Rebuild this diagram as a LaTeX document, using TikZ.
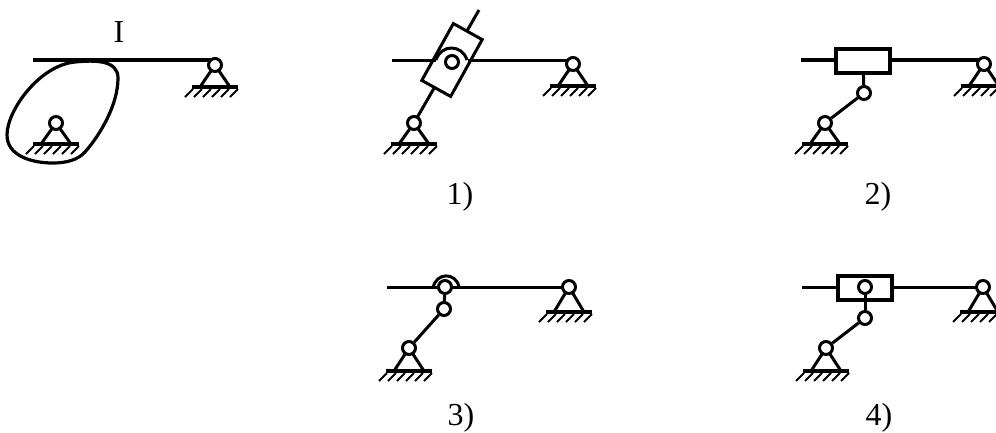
\documentclass[tikz,border=0pt]{standalone}
\usepackage{fontspec}
\setmainfont{Liberation Serif}
\usetikzlibrary{positioning, calc}

\tikzset{
	x=1pt, y=-1pt,
	bar/.style={line width=3pt},
	barheavy/.style={line width=4pt},
	pivot/.style={draw, circle, fill=white, line width=3pt, minimum size=13pt, inner sep=0pt},
	slider/.style={draw, fill=white, line width=4pt, minimum width=54pt, minimum height=24pt, inner sep=0pt},
	caption/.style={font=\fontsize{32}{36}\selectfont, inner sep=0pt},
	leg/.style={line width=3pt},
	base/.style={line width=4pt},
	hatch/.style={line width=2pt}
}

% support under a pivot: base line, two legs and six hatch strokes
\newcommand{\support}[2]{
	\draw [leg] (#1) -- ($(#1)+(-15,#2)$);
	\draw [leg] (#1) -- ($(#1)+(15,#2)$);
	\draw [base] ($(#1)+(-23,#2)$) -- ($(#1)+(23,#2)$);
	\foreach \i in {0,...,5} {
		\draw [hatch] ($(#1)+(-22+9*\i,#2+2)$) -- ++(-8,8);
	}
}

\begin{document}
\begin{tikzpicture}

\useasboundingbox (0,0) rectangle (996,432);

% I
\coordinate (startI) at (33,60);
\coordinate (rightI) at (215,65);
\coordinate (camI) at (56,123);
\draw [barheavy] (startI) -- (215,60);
\draw [line width=3.2pt] (75,62) .. controls (95,60) and (118,60) .. (118,78)
	.. controls (118,105) and (100,135) .. (85,152)
	.. controls (78,160) and (66,163) .. (53,163)
	.. controls (30,163) and (7,155) .. (7,135)
	.. controls (7,110) and (40,65) .. (75,62) -- cycle;
\support{rightI}{22}
\support{camI}{21}
\node [pivot] (pivotA) at (rightI) {};
\node [pivot] (pivotB) at (camI) {};
\node [caption] (labelI) at (119,32) {I};

% 1)
\coordinate (startOne) at (392,60);
\coordinate (rightOne) at (573,64);
\coordinate (leftOne) at (414,123);
\coordinate (tipOne) at (479,10);
\draw [bar] (leftOne) -- (tipOne);
\support{rightOne}{22}
\support{leftOne}{21}
\node [draw, fill=white, line width=3pt, minimum width=33pt, minimum height=65pt, inner sep=0pt, rotate=-29] (sliderOne) at (452,60) {};
\draw [bar] (startOne) -- (436,60);
\draw [bar] (468,60) -- (573,60);
\node [pivot] (pinOne) at (452,62) {};
\draw [bar] (436,60) .. controls (441,44) and (462,44) .. (467,60);
\node [pivot] (pivotC) at (rightOne) {};
\node [pivot] (pivotD) at (leftOne) {};
\node [caption] (labelOne) at (460,197) {1)};

% 2)
\coordinate (startTwo) at (801,60);
\coordinate (rightTwo) at (984,64);
\coordinate (leftTwo) at (825,123);
\draw [barheavy] (startTwo) -- (984,60);
\support{rightTwo}{22}
\support{leftTwo}{21}
\node [slider] (sliderTwo) at (863,60.5) {};
\node [pivot] (pinTwo) at (864,93) {};
\node [pivot] (pivotE) at (rightTwo) {};
\node [pivot] (pivotF) at (leftTwo) {};
\draw [bar] (sliderTwo) -- (pinTwo);
\draw [bar] (pinTwo) -- (pivotF);
\node [caption] (labelTwo) at (878,197) {2)};

% 3)
\coordinate (startThree) at (387,287);
\coordinate (rightThree) at (569,287);
\coordinate (leftThree) at (409,348);
\draw [bar] (startThree) -- (rightThree);
\support{rightThree}{25}
\support{leftThree}{23}
\draw [bar] (433,288) .. controls (436,272) and (456,272) .. (459,287);
\node [pivot] (pinThree) at (445,287) {};
\node [pivot] (lowThree) at (444,309) {};
\node [pivot] (pivotG) at (rightThree) {};
\node [pivot] (pivotH) at (leftThree) {};
\draw [bar] (pinThree) -- (lowThree);
\draw [bar] (lowThree) -- (pivotH);
\node [caption] (labelThree) at (461,417.5) {3)};

% 4)
\coordinate (startFour) at (802,287);
\coordinate (rightFour) at (983,287);
\coordinate (leftFour) at (826,348);
\draw [bar] (startFour) -- (rightFour);
\support{rightFour}{25}
\support{leftFour}{23}
\node [slider] (sliderFour) at (864.5,288) {};
\node [pivot] (pinFour) at (865,287) {};
\node [pivot] (lowFour) at (865,318) {};
\node [pivot] (pivotI) at (rightFour) {};
\node [pivot] (pivotJ) at (leftFour) {};
\draw [bar] (pinFour) -- (lowFour);
\draw [bar] (lowFour) -- (pivotJ);
\node [caption] (labelFour) at (879,417.5) {4)};

\end{tikzpicture}
\end{document}
